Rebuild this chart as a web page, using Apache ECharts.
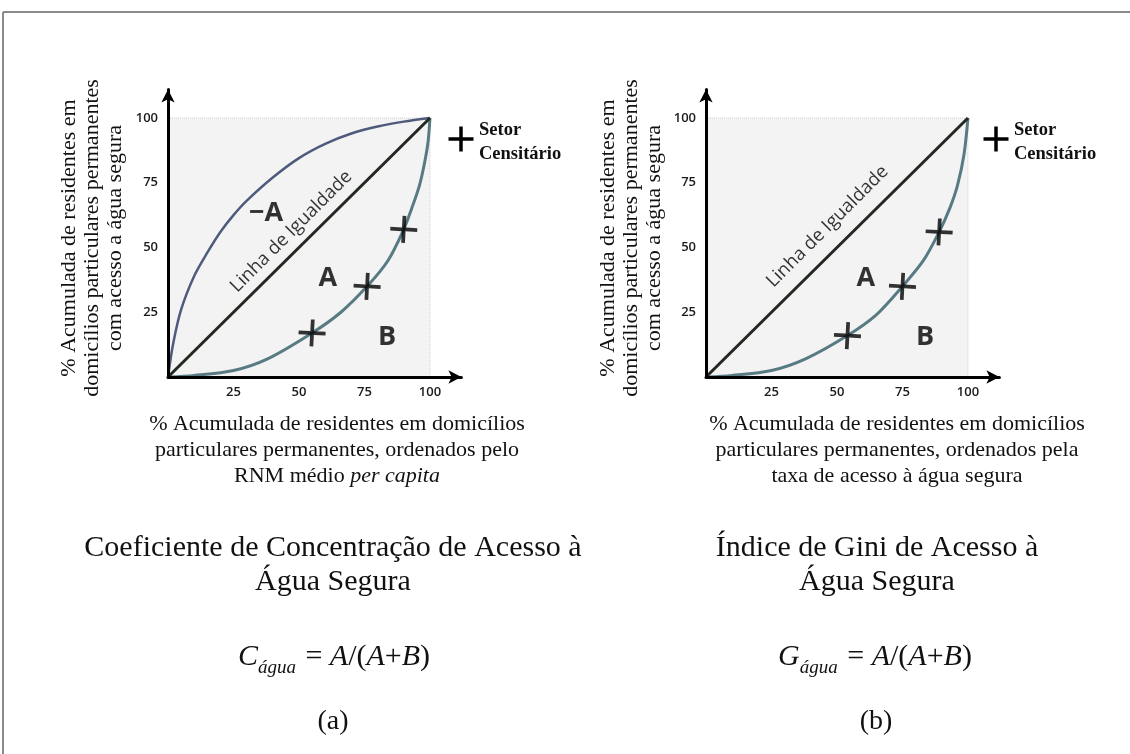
<!DOCTYPE html>
<html>
<head>
<meta charset="utf-8">
<script src="https://cdn.jsdelivr.net/npm/echarts@6/dist/echarts.min.js"></script>
<style>
html,body{margin:0;padding:0;background:#fff;}
#chart{width:1130px;height:754px;}
</style>
</head>
<body>
<div id="chart"></div>
<script>
// ---------- data ----------
const axisTicks = [0, 25, 50, 75, 100];
const equalityLine = [[0, 0], [100, 100]];
// (a) concentration chart
const lorenzA = [[0,0],[10,0.6],[25,2.5],[38,7],[55,17],[66,25],[76,35],[84,45],[90,57],[93,65],[96,74],[98,83],[99.3,91],[100,100]];
const concentrationA = [[0,0],[2,13],[5,26],[10,39],[15,48],[20,56],[25,62.5],[30,68],[40,77],[50,84.5],[60,90],[70,94],[80,96.7],[90,98.6],[100,100]];
const sectorsA = [[55,17],[76,35],[90,57]];
const regionLabelsA = [
  {name: '−A', value: [37.4, 63.3]},
  {name: 'A', value: [61, 38.2]},
  {name: 'B', value: [83.6, 15.4]}
];
const equalityLabelA = [{name: 'Linha de Igualdade', value: [47.1, 56.2]}];
// (b) gini chart
const lorenzB = [[0,0],[10,0.6],[25,2.5],[38,7],[54,16],[65,24],[75,35],[83,45],[89,56],[93,65],[96,74],[98.5,86],[100,100]];
const sectorsB = [[54,16],[75,35],[89,56]];
const regionLabelsB = [
  {name: 'A', value: [61, 38.2]},
  {name: 'B', value: [83.6, 15.4]}
];
const equalityLabelB = [{name: 'Linha de Igualdade', value: [46.4, 58.1]}];

const yTitle = '% Acumulada de residentes em\ndomicílios particulares permanentes\ncom acesso a água segura';
const xTitleA = '% Acumulada de residentes em domicílios\nparticulares permanentes, ordenados pelo\n{n|RNM médio }{i|per capita}';
const xTitleB = '% Acumulada de residentes em domicílios\nparticulares permanentes, ordenados pela\ntaxa de acesso à água segura';
const titleA = 'Coeficiente de Concentração de Acesso à\nÁgua Segura';
const titleB = 'Índice de Gini de Acesso à\nÁgua Segura';
const legendText = 'Setor\nCensitário';

// ---------- styles ----------
const SERIF = '"Liberation Serif", "Times New Roman", serif';
const SANS = '"Open Sans", "DejaVu Sans", sans-serif';
const PLUS = 'path://M11.2,0h3.6v11.2h11.2v3.6h-11.2v11.2h-3.6v-11.2h-11.2v-3.6h11.2z';
const C_EQ = '#232821', C_LOR = '#587b83', C_CONC = '#4e5b7c';

function axisX(gi) {
  return {
    gridIndex: gi, type: 'value', min: 0, max: 112, interval: 25, z: 10,
    axisLine: {show: true, onZero: false, symbol: ['none', 'arrow'], symbolSize: [10, 13], lineStyle: {color: '#000', width: 3}},
    axisTick: {show: false}, splitLine: {show: false},
    axisLabel: {margin: 9, color: '#1a1a1a', fontFamily: SANS, fontSize: 13, fontWeight: 600,
      formatter: v => (v > 0 && v <= 100 && axisTicks.indexOf(v) >= 0) ? String(v) : ''}
  };
}
function axisY(gi) {
  return {
    gridIndex: gi, type: 'value', min: 0, max: 111, interval: 25, z: 10,
    axisLine: {show: true, onZero: false, symbol: ['none', 'arrow'], symbolSize: [10, 13], lineStyle: {color: '#000', width: 3}},
    axisTick: {show: false}, splitLine: {show: false},
    axisLabel: {margin: 10, color: '#1a1a1a', fontFamily: SANS, fontSize: 13, fontWeight: 600,
      formatter: v => (v > 0 && v <= 100 && axisTicks.indexOf(v) >= 0) ? String(v) : ''}
  };
}
function equalitySeries(gi) {
  return {type: 'line', xAxisIndex: gi, yAxisIndex: gi, data: equalityLine, symbol: 'none', z: 4,
    lineStyle: {color: C_EQ, width: 3},
    markArea: {silent: true, itemStyle: {color: '#f3f3f3', borderColor: '#cfcfcf', borderWidth: 1, borderType: 'dotted'},
      data: [[{coord: [0, 0]}, {coord: [100, 100]}]]}};
}
function curveSeries(gi, data, color, width) {
  return {type: 'line', xAxisIndex: gi, yAxisIndex: gi, data: data, symbol: 'none', smooth: 0.3, z: 3,
    lineStyle: {color: color, width: width}};
}
function crossSeries(gi, data) {
  return {type: 'scatter', xAxisIndex: gi, yAxisIndex: gi, data: data, symbol: PLUS, symbolSize: 27, symbolRotate: -3, z: 6,
    itemStyle: {color: '#000'}};
}
function labelSeries(gi, data, size, weight, rotate) {
  return {type: 'scatter', xAxisIndex: gi, yAxisIndex: gi, data: data, symbolSize: 1, z: 7,
    itemStyle: {color: 'rgba(0,0,0,0)'},
    label: {show: true, position: 'inside', formatter: '{b}', color: '#000', fontFamily: SANS,
      fontSize: size, fontWeight: weight, rotate: rotate || 0}};
}

function centered(x, y, text, size, lh, extra) {
  return {type: 'text', x: x, y: y, style: Object.assign({
    text: text, fill: '#111', fontFamily: SERIF, fontSize: size,
    align: 'center', verticalAlign: 'middle', lineHeight: lh}, extra || {})};
}
function formula(x, y, letter) {
  return {type: 'text', x: x, y: y, style: {
    text: '{c|' + letter + '}{s|água}{n| = }{c|A}{n|/(}{c|A}{n|+}{c|B}{n|)}',
    align: 'center', verticalAlign: 'middle', fill: '#111',
    rich: {
      c: {fontFamily: SERIF, fontSize: 30, fontStyle: 'italic', lineHeight: 40, verticalAlign: 'middle'},
      n: {fontFamily: SERIF, fontSize: 30, lineHeight: 40, verticalAlign: 'middle'},
      s: {fontFamily: SERIF, fontSize: 19, fontStyle: 'italic', lineHeight: 19, verticalAlign: 'bottom', padding: [0, 2, 0, 0]}
    }}};
}
function legendBlock(dx) {
  const cx = 461 + dx, cy = 139, half = 12.5, t = 3.5;
  return [
    {type: 'rect', shape: {x: cx - half, y: cy - t / 2, width: 2 * half, height: t}, style: {fill: '#000'}},
    {type: 'rect', shape: {x: cx - t / 2, y: cy - half, width: t, height: 2 * half}, style: {fill: '#000'}},
    {type: 'text', x: 479 + dx, y: 142, style: {text: legendText, fill: '#111', fontFamily: SERIF, fontSize: 18.5,
      fontWeight: 'bold', align: 'left', verticalAlign: 'middle', lineHeight: 24}}
  ];
}

const chart = echarts.init(document.getElementById('chart'), null, {renderer: 'canvas'});
const yTitleA = centered(92, 238, yTitle, 22, 23); yTitleA.rotation = Math.PI / 2;
const yTitleB = centered(631, 238, yTitle, 22, 23); yTitleB.rotation = Math.PI / 2;
chart.setOption({
  backgroundColor: '#fff',
  animation: false,
  grid: [
    {left: 168, top: 89.5, width: 293.4, height: 287.5, outerBoundsMode: 'none', containLabel: false},
    {left: 706, top: 89.5, width: 293.4, height: 287.5, outerBoundsMode: 'none', containLabel: false}
  ],
  xAxis: [axisX(0), axisX(1)],
  yAxis: [axisY(0), axisY(1)],
  series: [
    equalitySeries(0),
    curveSeries(0, concentrationA, C_CONC, 2.5),
    curveSeries(0, lorenzA, C_LOR, 3),
    crossSeries(0, sectorsA),
    labelSeries(0, regionLabelsA, 27, 'bold'),
    labelSeries(0, equalityLabelA, 18.5, 'normal', 45),
    equalitySeries(1),
    curveSeries(1, lorenzB, C_LOR, 3),
    crossSeries(1, sectorsB),
    labelSeries(1, regionLabelsB, 27, 'bold'),
    labelSeries(1, equalityLabelB, 18.5, 'normal', 45)
  ],
  graphic: [
    {type: 'line', shape: {x1: 3, y1: 12, x2: 1130, y2: 12}, style: {stroke: '#8a8a8a', lineWidth: 2}},
    {type: 'line', shape: {x1: 3, y1: 12, x2: 3, y2: 754}, style: {stroke: '#8a8a8a', lineWidth: 2}},
    yTitleA, yTitleB,
    {type: 'text', x: 337, y: 450, style: {text: xTitleA, fill: '#111', fontFamily: SERIF, fontSize: 22, align: 'center', verticalAlign: 'middle', lineHeight: 26,
      rich: {n: {fontFamily: SERIF, fontSize: 22, lineHeight: 26}, i: {fontFamily: SERIF, fontSize: 22, fontStyle: 'italic', lineHeight: 26}}}},
    centered(897, 450, xTitleB, 22, 26),
    centered(333, 565, titleA, 30, 34),
    centered(877, 565, titleB, 30, 34),
    formula(334, 657, 'C'),
    formula(875, 657, 'G'),
    centered(333, 722, '(a)', 28, 32),
    centered(876, 722, '(b)', 28, 32)
  ].concat(legendBlock(0), legendBlock(535))
});
</script>
</body>
</html>
